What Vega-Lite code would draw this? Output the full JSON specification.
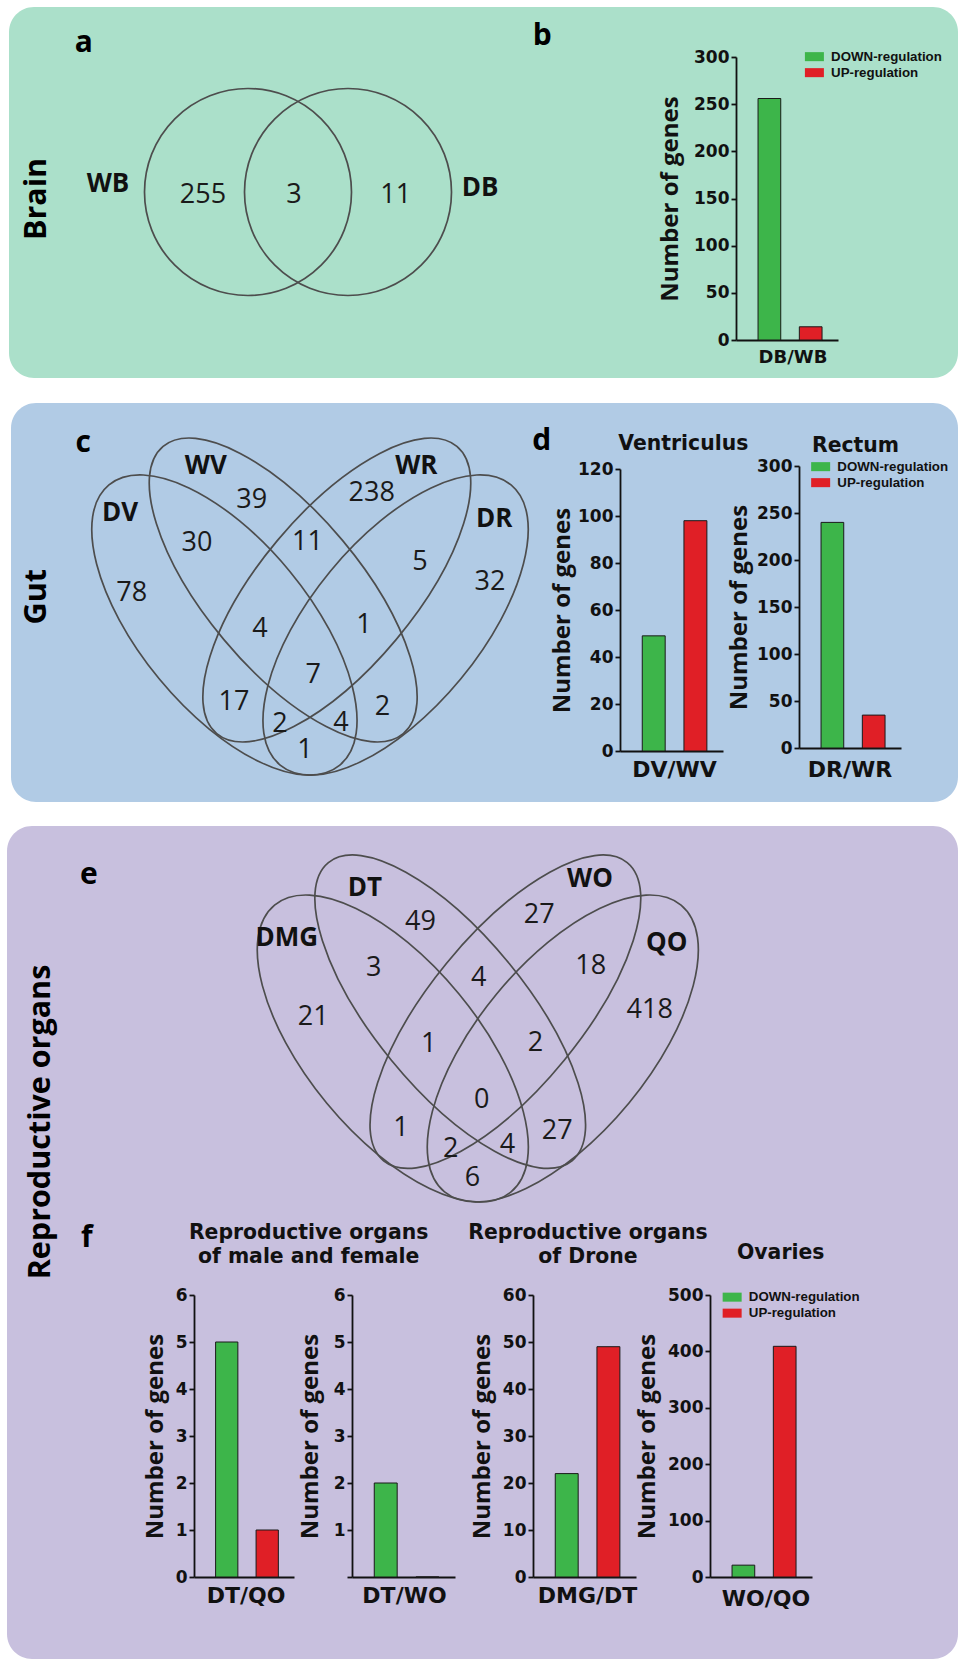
{
  "$schema": "https://vega.github.io/schema/vega-lite/v6.json",
  "padding": 0,
  "background": "white",
  "spacing": 0,
  "bounds": "flush",
  "resolve": {"scale": {"color": "independent", "xOffset": "independent"}, "legend": {"color": "independent"}},
  "datasets": {
    "panels": [
      {"panel": "Brain", "x": 9, "x2": 958, "y": 7, "y2": 378},
      {"panel": "Gut", "x": 11, "x2": 958, "y": 403, "y2": 802},
      {"panel": "Reproductive organs", "x": 7, "x2": 958, "y": 826, "y2": 1659}
    ],
    "sets": [
      {"venn": "a", "set": "WB", "ring": "circle", "x": 248, "y": 192, "angle": 0},
      {"venn": "a", "set": "DB", "ring": "circle", "x": 348, "y": 192, "angle": 0},
      {"venn": "c", "set": "DV", "ring": "outer", "x": 224.4, "y": 625, "angle": 50.5},
      {"venn": "c", "set": "DR", "ring": "outer", "x": 395.6, "y": 625, "angle": -50.5},
      {"venn": "c", "set": "WV", "ring": "inner", "x": 283.2, "y": 590, "angle": 50.1},
      {"venn": "c", "set": "WR", "ring": "inner", "x": 336.8, "y": 590, "angle": -50.1},
      {"venn": "e", "set": "DMG", "ring": "outer", "x": 392.8, "y": 1048.5, "angle": 50.5},
      {"venn": "e", "set": "QO", "ring": "outer", "x": 562.8, "y": 1048.5, "angle": -50.5},
      {"venn": "e", "set": "DT", "ring": "inner", "x": 450.2, "y": 1011.7, "angle": 50.75},
      {"venn": "e", "set": "WO", "ring": "inner", "x": 505.4, "y": 1011.7, "angle": -50.75}
    ],
    "texts": [
      {"kind": "set", "label": "WB", "x": 108, "y": 184},
      {"kind": "set", "label": "DB", "x": 480, "y": 187.5},
      {"kind": "count", "label": "255", "x": 203, "y": 194.5},
      {"kind": "count", "label": "3", "x": 294, "y": 194.5},
      {"kind": "count", "label": "11", "x": 395.8, "y": 194.5},

      {"kind": "set", "label": "DV", "x": 120, "y": 513.3},
      {"kind": "set", "label": "WV", "x": 205.8, "y": 466.3},
      {"kind": "set", "label": "WR", "x": 416.3, "y": 466.3},
      {"kind": "set", "label": "DR", "x": 494.2, "y": 519.2},
      {"kind": "count", "label": "39", "x": 251.7, "y": 500},
      {"kind": "count", "label": "238", "x": 371.7, "y": 493.3},
      {"kind": "count", "label": "30", "x": 197, "y": 543},
      {"kind": "count", "label": "11", "x": 307.5, "y": 541.7},
      {"kind": "count", "label": "5", "x": 420, "y": 561.7},
      {"kind": "count", "label": "78", "x": 131.7, "y": 593.3},
      {"kind": "count", "label": "32", "x": 490, "y": 581.7},
      {"kind": "count", "label": "4", "x": 260, "y": 629},
      {"kind": "count", "label": "1", "x": 364, "y": 625},
      {"kind": "count", "label": "7", "x": 313.3, "y": 675},
      {"kind": "count", "label": "17", "x": 234, "y": 701.7},
      {"kind": "count", "label": "2", "x": 382.5, "y": 706.7},
      {"kind": "count", "label": "2", "x": 280, "y": 724},
      {"kind": "count", "label": "4", "x": 341, "y": 722.5},
      {"kind": "count", "label": "1", "x": 305, "y": 750},

      {"kind": "set", "label": "DMG", "x": 286.7, "y": 938.3},
      {"kind": "set", "label": "DT", "x": 365, "y": 888.3},
      {"kind": "set", "label": "WO", "x": 590, "y": 879.2},
      {"kind": "set", "label": "QO", "x": 666.7, "y": 943},
      {"kind": "count", "label": "49", "x": 420.5, "y": 921.7},
      {"kind": "count", "label": "27", "x": 539.2, "y": 915},
      {"kind": "count", "label": "3", "x": 373.7, "y": 968.3},
      {"kind": "count", "label": "4", "x": 478.8, "y": 978.3},
      {"kind": "count", "label": "18", "x": 590.8, "y": 965.5},
      {"kind": "count", "label": "21", "x": 313.3, "y": 1016.7},
      {"kind": "count", "label": "418", "x": 649.7, "y": 1009.7},
      {"kind": "count", "label": "1", "x": 428.7, "y": 1043.7},
      {"kind": "count", "label": "2", "x": 535.5, "y": 1043.3},
      {"kind": "count", "label": "0", "x": 481.7, "y": 1099.7},
      {"kind": "count", "label": "1", "x": 401, "y": 1128.3},
      {"kind": "count", "label": "27", "x": 557.2, "y": 1130.8},
      {"kind": "count", "label": "2", "x": 450.7, "y": 1149.2},
      {"kind": "count", "label": "4", "x": 507.5, "y": 1145},
      {"kind": "count", "label": "6", "x": 472.5, "y": 1178.3},

      {"kind": "letter", "label": "a", "x": 83.8, "y": 51.7},
      {"kind": "letter", "label": "b", "x": 542.2, "y": 45},
      {"kind": "letter", "label": "c", "x": 83.3, "y": 451.7},
      {"kind": "letter", "label": "d", "x": 541.7, "y": 450},
      {"kind": "letter", "label": "e", "x": 88.9, "y": 884},
      {"kind": "letter", "label": "f", "x": 86.8, "y": 1247},

      {"kind": "row", "label": "Brain", "x": 36.7, "y": 199},
      {"kind": "row", "label": "Gut", "x": 36.7, "y": 596.7},
      {"kind": "row", "label": "Reproductive organs", "x": 40.6, "y": 1122},

      {"kind": "title", "label": "Ventriculus", "x": 683.3, "y": 434},
      {"kind": "title", "label": "Rectum", "x": 855.5, "y": 435.6},
      {"kind": "title", "label": "Reproductive organs\nof male and female", "x": 308.6, "y": 1223.4},
      {"kind": "title", "label": "Reproductive organs\nof Drone", "x": 588, "y": 1223.4},
      {"kind": "title", "label": "Ovaries", "x": 780.7, "y": 1243}
    ],
    "bars": [
      {"comparison": "DB/WB", "regulation": "DOWN-regulation", "genes": 256},
      {"comparison": "DB/WB", "regulation": "UP-regulation", "genes": 14},
      {"comparison": "DV/WV", "regulation": "DOWN-regulation", "genes": 49},
      {"comparison": "DV/WV", "regulation": "UP-regulation", "genes": 98},
      {"comparison": "DR/WR", "regulation": "DOWN-regulation", "genes": 240},
      {"comparison": "DR/WR", "regulation": "UP-regulation", "genes": 35},
      {"comparison": "DT/QO", "regulation": "DOWN-regulation", "genes": 5},
      {"comparison": "DT/QO", "regulation": "UP-regulation", "genes": 1},
      {"comparison": "DT/WO", "regulation": "DOWN-regulation", "genes": 2},
      {"comparison": "DT/WO", "regulation": "UP-regulation", "genes": 0},
      {"comparison": "DMG/DT", "regulation": "DOWN-regulation", "genes": 22},
      {"comparison": "DMG/DT", "regulation": "UP-regulation", "genes": 49},
      {"comparison": "WO/QO", "regulation": "DOWN-regulation", "genes": 21},
      {"comparison": "WO/QO", "regulation": "UP-regulation", "genes": 409}
    ]
  },
  "hconcat": [
    {
      "width": 194,
      "height": 1659,
      "encoding": {
        "x": {"field": "x", "type": "quantitative", "scale": {"domain": [0, 194], "nice": false, "zero": false}, "axis": null},
        "y": {"field": "y", "type": "quantitative", "scale": {"domain": [0, 1659], "nice": false, "zero": false, "reverse": true}, "axis": null}
      },
      "layer": [
        {
          "data": {"name": "panels"},
          "mark": {"type": "rect", "cornerRadius": 25},
          "encoding": {
            "x2": {"field": "x2"},
            "y2": {"field": "y2"},
            "color": {"field": "panel", "type": "nominal", "scale": {"domain": ["Brain", "Gut", "Reproductive organs"], "range": ["#abe0ca", "#b1cbe5", "#c8c0de"]}, "legend": null}
          }
        },
        {
          "data": {"name": "sets"},
          "transform": [{"filter": "datum.ring === 'circle'"}],
          "mark": {"type": "point", "shape": "circle", "size": 42849, "filled": false, "color": "#4d4d4d", "stroke": "#4d4d4d", "strokeWidth": 1.7, "opacity": 1}
        },
        {
          "data": {"name": "sets"},
          "transform": [{"filter": "datum.venn === 'c' && datum.ring === 'outer'"}],
          "mark": {"type": "point", "shape": "M1,0C1,0.2574 0.5523,0.466 0,0.466C-0.5523,0.466 -1,0.2574 -1,0C-1,-0.2574 -0.5523,-0.466 0,-0.466C0.5523,-0.466 1,-0.2574 1,0Z", "size": 131769, "filled": false, "color": "#4d4d4d", "stroke": "#4d4d4d", "strokeWidth": 1.7, "opacity": 1},
          "encoding": {"angle": {"field": "angle", "type": "quantitative", "scale": null}}
        },
        {
          "data": {"name": "sets"},
          "transform": [{"filter": "datum.venn === 'c' && datum.ring === 'inner'"}],
          "mark": {"type": "point", "shape": "M1,0C1,0.2281 0.5523,0.413 0,0.413C-0.5523,0.413 -1,0.2281 -1,0C-1,-0.2281 -0.5523,-0.413 0,-0.413C0.5523,-0.413 1,-0.2281 1,0Z", "size": 140176, "filled": false, "color": "#4d4d4d", "stroke": "#4d4d4d", "strokeWidth": 1.7, "opacity": 1},
          "encoding": {"angle": {"field": "angle", "type": "quantitative", "scale": null}}
        },
        {
          "data": {"name": "sets"},
          "transform": [{"filter": "datum.venn === 'e' && datum.ring === 'outer'"}],
          "mark": {"type": "point", "shape": "M1,0C1,0.2549 0.5523,0.4615 0,0.4615C-0.5523,0.4615 -1,0.2549 -1,0C-1,-0.2549 -0.5523,-0.4615 0,-0.4615C0.5523,-0.4615 1,-0.2549 1,0Z", "size": 138236, "filled": false, "color": "#4d4d4d", "stroke": "#4d4d4d", "strokeWidth": 1.7, "opacity": 1},
          "encoding": {"angle": {"field": "angle", "type": "quantitative", "scale": null}}
        },
        {
          "data": {"name": "sets"},
          "transform": [{"filter": "datum.venn === 'e' && datum.ring === 'inner'"}],
          "mark": {"type": "point", "shape": "M1,0C1,0.2187 0.5523,0.396 0,0.396C-0.5523,0.396 -1,0.2187 -1,0C-1,-0.2187 -0.5523,-0.396 0,-0.396C0.5523,-0.396 1,-0.2187 1,0Z", "size": 148225, "filled": false, "color": "#4d4d4d", "stroke": "#4d4d4d", "strokeWidth": 1.7, "opacity": 1},
          "encoding": {"angle": {"field": "angle", "type": "quantitative", "scale": null}}
        },
        {
          "data": {"name": "texts"},
          "transform": [{"filter": "datum.kind === 'set'"}],
          "mark": {"type": "text", "font": "Open Sans", "fontWeight": "bold", "fontSize": 26, "align": "center", "baseline": "middle", "color": "#111111"},
          "encoding": {"text": {"field": "label", "type": "nominal"}}
        },
        {
          "data": {"name": "texts"},
          "transform": [{"filter": "datum.kind === 'count'"}],
          "mark": {"type": "text", "font": "Open Sans", "fontWeight": "normal", "fontSize": 27, "align": "center", "baseline": "middle", "color": "#1a1a1a"},
          "encoding": {"text": {"field": "label", "type": "nominal"}}
        },
        {
          "data": {"name": "texts"},
          "transform": [{"filter": "datum.kind === 'letter'"}],
          "mark": {"type": "text", "font": "Open Sans", "fontWeight": "bold", "fontSize": 30, "align": "center", "baseline": "alphabetic", "color": "#000000"},
          "encoding": {"text": {"field": "label", "type": "nominal"}}
        },
        {
          "data": {"name": "texts"},
          "transform": [{"filter": "datum.kind === 'row'"}],
          "mark": {"type": "text", "font": "Open Sans", "fontWeight": "bold", "fontSize": 30.5, "align": "center", "baseline": "middle", "angle": 270, "color": "#000000"},
          "encoding": {"text": {"field": "label", "type": "nominal"}}
        },
        {
          "data": {"name": "texts"},
          "transform": [{"filter": "datum.kind === 'title'"}],
          "mark": {"type": "text", "font": "DejaVu Sans", "fontWeight": "bold", "fontSize": 20.4, "align": "center", "baseline": "top", "lineBreak": "\n", "lineHeight": 24, "color": "#111111"},
          "encoding": {"text": {"field": "label", "type": "nominal"}}
        }
      ]
    },
    {
      "spacing": 0,
      "bounds": "flush",
      "resolve": {"scale": {"color": "independent", "xOffset": "independent"}, "legend": {"color": "independent"}},
      "vconcat": [
        {"width": 1, "height": 57, "data": {"values": []}, "mark": "point"},
        {
          "spacing": 0,
          "bounds": "flush",
          "resolve": {"scale": {"color": "independent", "xOffset": "independent"}, "legend": {"color": "independent"}},
          "hconcat": [
            {"width": 542, "height": 1, "data": {"values": []}, "mark": "point"},
            {
              "width": 102, "height": 283,
              "data": {"name": "bars"},
              "transform": [{"filter": "datum.comparison === 'DB/WB'"}],
              "mark": {"type": "bar", "stroke": "#1a1a1a", "strokeWidth": 1},
              "encoding": {
                "x": {"field": "comparison", "type": "nominal", "scale": {"paddingInner": 0, "paddingOuter": 0}, "axis": {"title": null, "labelFontSize": 18, "labelPadding": 8, "labelOffset": 6}},
                "xOffset": {"field": "regulation", "type": "nominal", "scale": {"domain": ["DOWN-regulation", "UP-regulation"], "paddingInner": 0.45, "paddingOuter": 0.46, "align": 0.58}},
                "y": {"field": "genes", "type": "quantitative", "scale": {"domain": [0, 300], "nice": false}, "axis": {"title": "Number of genes", "titlePadding": 11, "values": [0, 50, 100, 150, 200, 250, 300]}},
                "color": {"field": "regulation", "type": "nominal", "scale": {"domain": ["DOWN-regulation", "UP-regulation"], "range": ["#3db54a", "#e01f26"]}, "legend": {"title": null, "orient": "none", "legendX": 71.75, "legendY": -7}}
              }
            }
          ]
        },
        {"width": 1, "height": 409, "data": {"values": []}, "mark": "point"},
        {
          "spacing": 0,
          "bounds": "flush",
          "resolve": {"scale": {"color": "independent", "xOffset": "independent"}, "legend": {"color": "independent"}},
          "hconcat": [
            {"width": 426, "height": 1, "data": {"values": []}, "mark": "point"},
            {
              "spacing": 0,
              "bounds": "flush",
              "resolve": {"scale": {"color": "independent", "xOffset": "independent"}, "legend": {"color": "independent"}},
              "vconcat": [
                {"width": 1, "height": 3, "data": {"values": []}, "mark": "point"},
                {
                  "width": 103, "height": 282,
                  "data": {"name": "bars"},
                  "transform": [{"filter": "datum.comparison === 'DV/WV'"}],
                  "mark": {"type": "bar", "stroke": "#1a1a1a", "strokeWidth": 1},
                  "encoding": {
                    "x": {"field": "comparison", "type": "nominal", "scale": {"paddingInner": 0, "paddingOuter": 0}, "axis": {"title": null, "labelOffset": 3}},
                    "xOffset": {"field": "regulation", "type": "nominal", "scale": {"domain": ["DOWN-regulation", "UP-regulation"], "paddingInner": 0.45, "paddingOuter": 0.46, "align": 0.58}},
                    "y": {"field": "genes", "type": "quantitative", "scale": {"domain": [0, 120], "nice": false}, "axis": {"title": "Number of genes", "titlePadding": 3, "values": [0, 20, 40, 60, 80, 100, 120]}},
                    "color": {"field": "regulation", "type": "nominal", "scale": {"domain": ["DOWN-regulation", "UP-regulation"], "range": ["#3db54a", "#e01f26"]}, "legend": null}
                  }
                }
              ]
            },
            {"width": 179, "height": 1, "data": {"values": []}, "mark": "point"},
            {
              "width": 102, "height": 282,
              "data": {"name": "bars"},
              "transform": [{"filter": "datum.comparison === 'DR/WR'"}],
              "mark": {"type": "bar", "stroke": "#1a1a1a", "strokeWidth": 1},
              "encoding": {
                "x": {"field": "comparison", "type": "nominal", "scale": {"paddingInner": 0, "paddingOuter": 0}, "axis": {"title": null, "labelPadding": 11.5}},
                "xOffset": {"field": "regulation", "type": "nominal", "scale": {"domain": ["DOWN-regulation", "UP-regulation"], "paddingInner": 0.45, "paddingOuter": 0.46, "align": 0.58}},
                "y": {"field": "genes", "type": "quantitative", "scale": {"domain": [0, 300], "nice": false}, "axis": {"title": "Number of genes", "titlePadding": 5.5, "values": [0, 50, 100, 150, 200, 250, 300]}},
                "color": {"field": "regulation", "type": "nominal", "scale": {"domain": ["DOWN-regulation", "UP-regulation"], "range": ["#3db54a", "#e01f26"]}, "legend": {"title": null, "orient": "none", "legendX": 15, "legendY": -6}}
              }
            }
          ]
        },
        {"width": 1, "height": 829, "data": {"values": []}, "mark": "point"},
        {
          "spacing": 0,
          "bounds": "flush",
          "resolve": {"scale": {"color": "independent", "xOffset": "independent"}, "legend": {"color": "independent"}},
          "hconcat": [
            {
              "width": 100, "height": 282,
              "data": {"name": "bars"},
              "transform": [{"filter": "datum.comparison === 'DT/QO'"}],
              "mark": {"type": "bar", "stroke": "#1a1a1a", "strokeWidth": 1},
              "encoding": {
                "x": {"field": "comparison", "type": "nominal", "scale": {"paddingInner": 0, "paddingOuter": 0}, "axis": {"title": null, "labelOffset": 2}},
                "xOffset": {"field": "regulation", "type": "nominal", "scale": {"domain": ["DOWN-regulation", "UP-regulation"], "paddingInner": 0.45, "paddingOuter": 0.46, "align": 0.58}},
                "y": {"field": "genes", "type": "quantitative", "scale": {"domain": [0, 6], "nice": false}, "axis": {"title": "Number of genes", "values": [0, 1, 2, 3, 4, 5, 6]}},
                "color": {"field": "regulation", "type": "nominal", "scale": {"domain": ["DOWN-regulation", "UP-regulation"], "range": ["#3db54a", "#e01f26"]}, "legend": null}
              }
            },
            {"width": 58, "height": 1, "data": {"values": []}, "mark": "point"},
            {
              "width": 103, "height": 282,
              "data": {"name": "bars"},
              "transform": [{"filter": "datum.comparison === 'DT/WO'"}],
              "mark": {"type": "bar", "stroke": "#1a1a1a", "strokeWidth": 1},
              "encoding": {
                "x": {"field": "comparison", "type": "nominal", "scale": {"paddingInner": 0, "paddingOuter": 0}, "axis": {"title": null, "labelOffset": 1}},
                "xOffset": {"field": "regulation", "type": "nominal", "scale": {"domain": ["DOWN-regulation", "UP-regulation"], "paddingInner": 0.45, "paddingOuter": 0.46, "align": 0.58}},
                "y": {"field": "genes", "type": "quantitative", "scale": {"domain": [0, 6], "nice": false}, "axis": {"title": "Number of genes", "titlePadding": 10.5, "values": [0, 1, 2, 3, 4, 5, 6], "labelExpr": "datum.value === 0 ? '' : datum.label"}},
                "color": {"field": "regulation", "type": "nominal", "scale": {"domain": ["DOWN-regulation", "UP-regulation"], "range": ["#3db54a", "#e01f26"]}, "legend": null}
              }
            },
            {"width": 78, "height": 1, "data": {"values": []}, "mark": "point"},
            {
              "width": 103, "height": 282,
              "data": {"name": "bars"},
              "transform": [{"filter": "datum.comparison === 'DMG/DT'"}],
              "mark": {"type": "bar", "stroke": "#1a1a1a", "strokeWidth": 1},
              "encoding": {
                "x": {"field": "comparison", "type": "nominal", "scale": {"paddingInner": 0, "paddingOuter": 0}, "axis": {"title": null, "labelOffset": 3}},
                "xOffset": {"field": "regulation", "type": "nominal", "scale": {"domain": ["DOWN-regulation", "UP-regulation"], "paddingInner": 0.45, "paddingOuter": 0.46, "align": 0.58}},
                "y": {"field": "genes", "type": "quantitative", "scale": {"domain": [0, 60], "nice": false}, "axis": {"title": "Number of genes", "values": [0, 10, 20, 30, 40, 50, 60]}},
                "color": {"field": "regulation", "type": "nominal", "scale": {"domain": ["DOWN-regulation", "UP-regulation"], "range": ["#3db54a", "#e01f26"]}, "legend": null}
              }
            },
            {"width": 74, "height": 1, "data": {"values": []}, "mark": "point"},
            {
              "width": 102, "height": 282,
              "data": {"name": "bars"},
              "transform": [{"filter": "datum.comparison === 'WO/QO'"}],
              "mark": {"type": "bar", "stroke": "#1a1a1a", "strokeWidth": 1},
              "encoding": {
                "x": {"field": "comparison", "type": "nominal", "scale": {"paddingInner": 0, "paddingOuter": 0}, "axis": {"title": null, "labelPadding": 11.5, "labelOffset": 5}},
                "xOffset": {"field": "regulation", "type": "nominal", "scale": {"domain": ["DOWN-regulation", "UP-regulation"], "paddingInner": 0.45, "paddingOuter": 0.46, "align": 0.58}},
                "y": {"field": "genes", "type": "quantitative", "scale": {"domain": [0, 500], "nice": false}, "axis": {"title": "Number of genes", "values": [0, 100, 200, 300, 400, 500]}},
                "color": {"field": "regulation", "type": "nominal", "scale": {"domain": ["DOWN-regulation", "UP-regulation"], "range": ["#3db54a", "#e01f26"]}, "legend": {"title": null, "orient": "none", "legendX": 15.5, "legendY": -4.5}}
              }
            }
          ]
        }
      ]
    }
  ],
  "config": {
    "view": {"stroke": null},
    "font": "Open Sans",
    "axis": {"grid": false, "domainColor": "#111111", "domainWidth": 1.8, "tickColor": "#111111", "tickWidth": 1.8, "labelColor": "#111111", "titleColor": "#111111"},
    "axisY": {"tickSize": 5, "labelFont": "DejaVu Sans", "labelFontWeight": "bold", "labelFontSize": 17, "labelPadding": 2, "titleFont": "Open Sans", "titleFontWeight": "bold", "titleFontSize": 24, "titlePadding": 8},
    "axisX": {"ticks": false, "tickSize": 0, "labelAngle": 0, "labelFont": "DejaVu Sans", "labelFontWeight": "bold", "labelFontSize": 22, "labelPadding": 8.5},
    "legend": {"direction": "vertical", "symbolType": "M-2,-0.95H2V0.95H-2Z", "symbolSize": 90.25, "symbolStrokeWidth": 0, "labelFont": "Liberation Sans", "labelFontWeight": "bold", "labelFontSize": 13.3, "labelColor": "#111111", "labelOffset": 10, "rowPadding": 2, "padding": 0}
  }
}
